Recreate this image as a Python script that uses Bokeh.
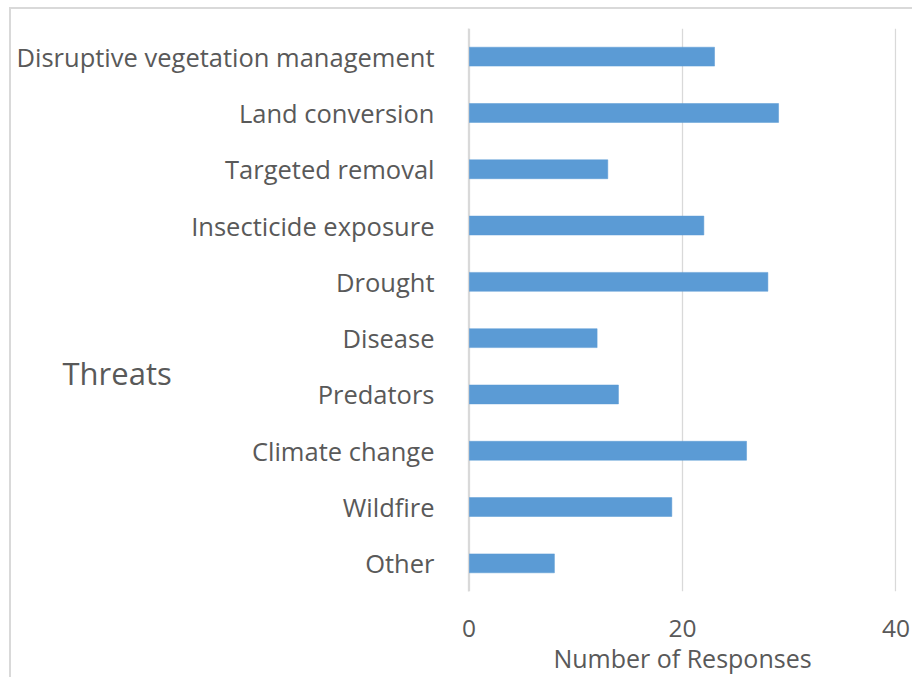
from bokeh.plotting import figure
from bokeh.models import Range1d, FactorRange, FixedTicker, Label
from bokeh.embed import file_html
from bokeh.resources import INLINE

categories = [
    "Disruptive vegetation management",
    "Land conversion",
    "Targeted removal",
    "Insecticide exposure",
    "Drought",
    "Disease",
    "Predators",
    "Climate change",
    "Wildfire",
    "Other",
]
responses = [23, 29, 13, 22, 28, 12, 14, 26, 19, 8]
x_ticks = [0, 20, 40]
category_title = "Threats"
value_title = "Number of Responses"

FONT = "Open Sans"
TXT = "#595959"
GRID = "#d9d9d9"

p = figure(
    width=1044, height=670,
    y_range=FactorRange(*list(reversed(categories)), range_padding=0),
    x_range=Range1d(-0.05, 40.05),
    output_backend="svg", toolbar_location=None,
    min_border_left=600, min_border_right=16,
    min_border_top=21, min_border_bottom=83,
)
p.hbar(y=categories, right=responses, left=0, height=0.336,
       fill_color="#5b9bd5", line_color="#5b9bd5", line_width=0.5)

p.outline_line_color = None
p.border_fill_color = None
line = "linear-gradient(%s, %s)" % (GRID, GRID)
p.styles = {
    "margin-left": "-132px",
    "margin-top": "7px",
    "background-image": line + ", " + line,
    "background-repeat": "no-repeat",
    "background-size": "100% 2px, 2px 100%",
    "background-position": "141px 0px, 141px 0px",
}

p.xgrid.ticker = FixedTicker(ticks=x_ticks)
p.xgrid.grid_line_color = GRID
p.xgrid.grid_line_width = 1.3
p.ygrid.grid_line_color = None

p.xaxis.ticker = FixedTicker(ticks=x_ticks)
p.xaxis.axis_line_color = None
p.xaxis.major_tick_line_color = None
p.xaxis.minor_tick_line_color = None
p.xaxis.major_label_text_font = FONT
p.xaxis.major_label_text_font_size = "24.5px"
p.xaxis.major_label_text_color = TXT
p.xaxis.major_label_standoff = 22
p.xaxis.axis_label = value_title
p.xaxis.axis_label_text_font = FONT
p.xaxis.axis_label_text_font_size = "25px"
p.xaxis.axis_label_text_font_style = "normal"
p.xaxis.axis_label_text_color = TXT
p.xaxis.axis_label_standoff = 1

p.yaxis.axis_line_color = GRID
p.yaxis.axis_line_width = 1.3
p.yaxis.major_tick_line_color = None
p.yaxis.minor_tick_line_color = None
p.yaxis.major_label_text_font = FONT
p.yaxis.major_label_text_font_size = "25.5px"
p.yaxis.major_label_text_color = TXT
p.yaxis.major_label_standoff = 28

p.add_layout(Label(x=194, y=365, x_units="canvas", y_units="canvas",
                   text=category_title, text_font=FONT, text_font_size="31px",
                   text_color=TXT, text_baseline="alphabetic"), "left")

open("out.html", "w").write(file_html(p, INLINE))
